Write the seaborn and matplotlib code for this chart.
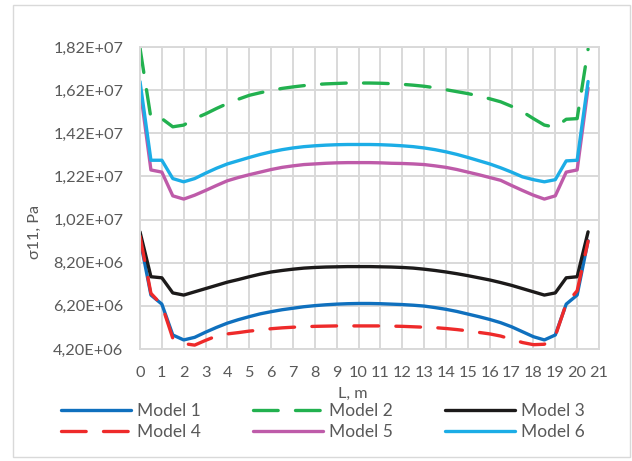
import numpy as np
import pandas as pd
import matplotlib
matplotlib.use("Agg")
import matplotlib.pyplot as plt
from matplotlib.lines import Line2D
from matplotlib.patches import Rectangle
from matplotlib.ticker import FuncFormatter
import seaborn as sns

# ---------------- data (values in Pa) ----------------
L = [0, 0.5, 1, 1.5, 2, 2.5, 3, 3.5, 4, 4.5, 5, 5.5, 6, 6.5, 7, 7.5, 8, 8.5, 9, 9.5, 10,
     10.5, 11, 11.5, 12, 12.5, 13, 13.5, 14, 14.5, 15, 15.5, 16, 16.5, 17, 17.5, 18, 18.5,
     19, 19.5, 20, 20.5]

model1 = [9.30, 6.70, 6.28, 4.85, 4.62, 4.74, 4.98, 5.20, 5.40, 5.56, 5.70, 5.83, 5.93, 6.02,
          6.09, 6.16, 6.21, 6.25, 6.28, 6.30, 6.31, 6.31, 6.30, 6.28, 6.26, 6.23, 6.19, 6.12,
          6.04, 5.94, 5.82, 5.70, 5.57, 5.42, 5.23, 5.00, 4.77, 4.62, 4.85, 6.28, 6.70, 9.22]
model2 = [18.15, 14.90, 14.88, 14.50, 14.58, 14.88, 15.10, 15.35, 15.58, 15.78, 15.96, 16.08,
          16.19, 16.28, 16.35, 16.41, 16.46, 16.49, 16.51, 16.53, 16.53, 16.53, 16.52, 16.50,
          16.47, 16.43, 16.38, 16.31, 16.22, 16.13, 16.04, 15.93, 15.80, 15.66, 15.45, 15.20,
          14.88, 14.58, 14.48, 14.85, 14.88, 18.10]
model3 = [9.63, 7.55, 7.50, 6.80, 6.70, 6.85, 7.00, 7.15, 7.30, 7.42, 7.55, 7.67, 7.77, 7.84,
          7.90, 7.95, 7.98, 8.00, 8.01, 8.02, 8.02, 8.02, 8.01, 8.00, 7.98, 7.95, 7.90, 7.84,
          7.77, 7.69, 7.60, 7.50, 7.40, 7.28, 7.15, 7.00, 6.85, 6.70, 6.80, 7.50, 7.55, 9.63]
model4 = [9.43, 6.78, 6.24, 4.70, 4.45, 4.38, 4.60, 4.80, 4.90, 4.96, 5.03, 5.08, 5.14, 5.18,
          5.21, 5.23, 5.25, 5.26, 5.27, 5.27, 5.27, 5.27, 5.27, 5.26, 5.25, 5.23, 5.21, 5.19,
          5.15, 5.10, 5.04, 4.97, 4.90, 4.80, 4.65, 4.50, 4.40, 4.42, 4.80, 6.30, 6.90, 9.20]
model5 = [16.30, 12.50, 12.40, 11.30, 11.15, 11.33, 11.55, 11.78, 12.00, 12.15, 12.28, 12.40,
          12.52, 12.62, 12.69, 12.75, 12.78, 12.81, 12.83, 12.84, 12.84, 12.84, 12.83, 12.81,
          12.80, 12.78, 12.75, 12.69, 12.62, 12.52, 12.40, 12.28, 12.15, 12.02, 11.78, 11.55,
          11.33, 11.15, 11.30, 12.40, 12.50, 16.30]
model6 = [16.60, 12.95, 12.95, 12.10, 11.95, 12.10, 12.35, 12.58, 12.78, 12.93, 13.08, 13.22,
          13.34, 13.44, 13.52, 13.58, 13.62, 13.65, 13.67, 13.68, 13.68, 13.68, 13.67, 13.65,
          13.62, 13.58, 13.52, 13.44, 13.34, 13.22, 13.08, 12.93, 12.78, 12.60, 12.40, 12.18,
          12.05, 11.95, 12.05, 12.92, 12.95, 16.60]

model_names = ["Model 1", "Model 2", "Model 3", "Model 4", "Model 5", "Model 6"]
series = [model1, model2, model3, model4, model5, model6]

y_ticks = [4.2e6, 6.2e6, 8.2e6, 1.02e7, 1.22e7, 1.42e7, 1.62e7, 1.82e7]
x_ticks = list(range(0, 22))

colors = {"Model 1": "#0F70BE", "Model 2": "#22B14F", "Model 3": "#1C1A1A",
          "Model 4": "#EE2A2A", "Model 5": "#BE5BA9", "Model 6": "#1CADE6"}
dash_map = {"Model 1": "", "Model 2": (7.4, 5.2), "Model 3": "",
            "Model 4": (7.4, 5.2), "Model 5": "", "Model 6": ""}

rows = []
for name, vals in zip(model_names, series):
    for x, v in zip(L, vals):
        rows.append({"L": x, "sigma": v * 1e6, "Model": name})
df = pd.DataFrame(rows)

# ---------------- figure ----------------
sns.set_theme(style="white")
plt.rcParams["font.family"] = ["Lato", "DejaVu Sans"]
TXT = "#595959"
GRID = "#D9D9D9"
LW = 2.4

W, H = 632, 461
fig = plt.figure(figsize=(W / 100, H / 100), dpi=100)
fig.patch.set_facecolor("white")
# chart area border
fig.add_artist(Rectangle((13 / W, 1 - 457 / H), (630 - 13) / W, (457 - 5) / H,
                         transform=fig.transFigure, fill=False, edgecolor=GRID, lw=1.0))

ax = fig.add_axes([140 / W, 1 - 349 / H, (599 - 140) / W, (349 - 47) / H])

sns.lineplot(data=df, x="L", y="sigma", hue="Model", style="Model",
             palette=colors, dashes=dash_map, hue_order=model_names,
             style_order=model_names, linewidth=LW, ax=ax, legend=False, sort=False)
for ln in ax.get_lines():
    ln.set_dash_capstyle("round")
    ln.set_solid_capstyle("round")
    ln.set_solid_joinstyle("round")

ax.set_xlim(0, 21)
ax.set_ylim(4.2e6, 1.82e7)
ax.set_xticks(x_ticks)
ax.set_yticks(y_ticks)
ax.yaxis.set_major_formatter(FuncFormatter(lambda v, p: f"{v:.2E}".replace(".", ",")))
ax.grid(True, color=GRID, lw=1.4)
ax.set_axisbelow(True)
for s in ax.spines.values():
    s.set_color(GRID)
    s.set_linewidth(1.4)
ax.tick_params(axis="both", length=0, labelsize=11.7, colors=TXT)
ax.tick_params(axis="y", pad=12)
ax.tick_params(axis="x", pad=12)
ax.set_xlabel("")
ax.set_ylabel("")

fig.text(35 / W, 1 - 232 / H, "σ11, Pa", rotation=90, ha="center", va="center",
         fontsize=11.7, color=TXT)
fig.text(353 / W, 1 - 394 / H, "L, m", ha="center", va="center", fontsize=11.7, color=TXT)

handle_map = {}
for name in model_names:
    kw = dict(color=colors[name], lw=LW, solid_capstyle="round", dash_capstyle="round")
    if dash_map[name]:
        kw["dashes"] = dash_map[name]
    handle_map[name] = Line2D([], [], **kw)
# matplotlib fills legend columns first -> reorder so rows read 1 2 3 / 4 5 6
leg_order = ["Model 1", "Model 4", "Model 2", "Model 5", "Model 3", "Model 6"]
fig.legend([handle_map[n] for n in leg_order], leg_order, loc="center", ncol=3,
           bbox_to_anchor=(323 / W, 1 - 421.5 / H), frameon=False, fontsize=12.5,
           labelcolor=TXT, handlelength=4.03, handletextpad=0.3, columnspacing=3.05,
           labelspacing=0.3)

fig.savefig("out.png", dpi=100, facecolor="white")
